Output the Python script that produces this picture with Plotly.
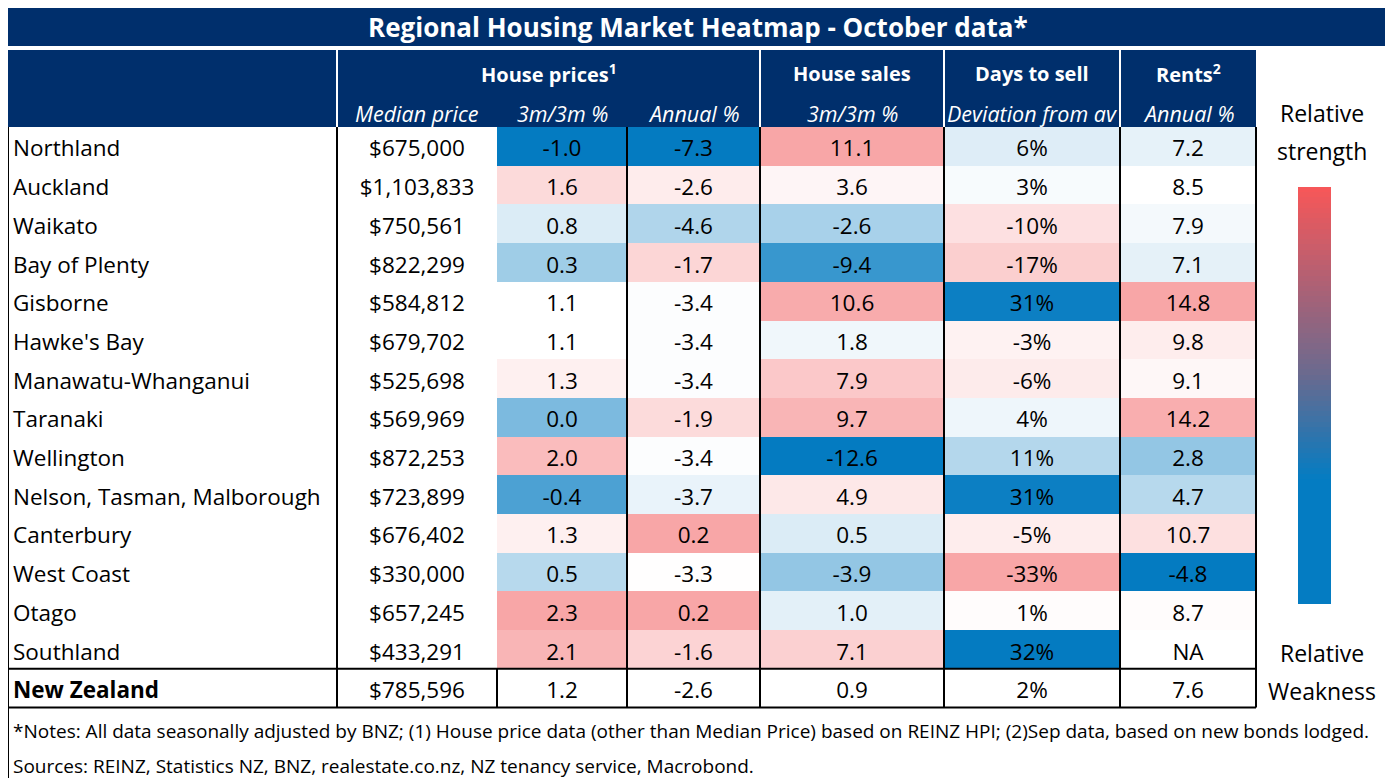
import numpy as np
import plotly.graph_objects as go

# ---------------- data ----------------
regions = ["Northland", "Auckland", "Waikato", "Bay of Plenty", "Gisborne", "Hawke's Bay",
           "Manawatu-Whanganui", "Taranaki", "Wellington", "Nelson, Tasman, Malborough",
           "Canterbury", "West Coast", "Otago", "Southland"]
median_price = [675000, 1103833, 750561, 822299, 584812, 679702, 525698, 569969,
                872253, 723899, 676402, 330000, 657245, 433291]
price_3m = [-1.0, 1.6, 0.8, 0.3, 1.1, 1.1, 1.3, 0.0, 2.0, -0.4, 1.3, 0.5, 2.3, 2.1]
price_annual = [-7.3, -2.6, -4.6, -1.7, -3.4, -3.4, -3.4, -1.9, -3.4, -3.7, 0.2, -3.3, 0.2, -1.6]
sales_3m = [11.1, 3.6, -2.6, -9.4, 10.6, 1.8, 7.9, 9.7, -12.6, 4.9, 0.5, -3.9, 1.0, 7.1]
days_dev = [6, 3, -10, -17, 31, -3, -6, 4, 11, 31, -5, -33, 1, 32]
rents_annual = [7.2, 8.5, 7.9, 7.1, 14.8, 9.8, 9.1, 14.2, 2.8, 4.7, 10.7, -4.8, 8.7, None]

nz_name = "New Zealand"
nz_median = 785596
nz_3m = 1.2
nz_annual = -2.6
nz_sales = 0.9
nz_days = 2
nz_rents = 7.6

title = "Regional Housing Market Heatmap - October data*"
group_headers = ["House prices<sup>1</sup>", "House sales", "Days to sell", "Rents<sup>2</sup>"]
sub_headers = ["Median price", "3m/3m %", "Annual %", "3m/3m %", "Deviation from av", "Annual %"]
notes = ("*Notes: All data seasonally adjusted by BNZ; (1) House price data (other than Median Price) "
         "based on REINZ HPI; (2)Sep data, based on new bonds lodged.")
sources = "Sources: REINZ, Statistics NZ, BNZ, realestate.co.nz, NZ tenancy service, Macrobond."

# ---------------- layout constants ----------------
W, H = 1393, 778
OFF = 8  # page body margin
col_edges = [8, 337, 497, 627, 760, 944, 1120, 1256, 1387]
row_top, row_h = 127, 38.7
n_rows = len(regions) + 1
row_edges = [row_top + i * row_h for i in range(n_rows + 1)]
TXT_DY = 4.5
row_centers = [(row_edges[i] + row_edges[i + 1]) / 2 + TXT_DY for i in range(n_rows)]
col_centers = [(col_edges[i] + col_edges[i + 1]) / 2 for i in range(len(col_edges) - 1)]

NAVY = "#002F6C"
BLUE = "#047BC1"
PINK = "#F8A6A7"
FONT = "Open Sans"


def excel_scale(vals, invert=False):
    arr = np.array([np.nan if v is None else v for v in vals], dtype=float)
    if invert:
        arr = -arr
    lo, mid, hi = np.nanmin(arr), np.nanmedian(arr), np.nanmax(arr)
    z = np.where(arr < mid, (arr - mid) / (mid - lo), (arr - mid) / (hi - mid))
    return z


zcols = [excel_scale(price_3m), excel_scale(price_annual), excel_scale(sales_3m),
         excel_scale(days_dev, invert=True), excel_scale(rents_annual)]
zmat = np.column_stack(zcols)

fig = go.Figure()

fig.add_trace(go.Heatmap(
    x=col_edges[2:8], y=row_edges[:len(regions) + 1], z=zmat,
    colorscale=[[0, BLUE], [0.5, "#FFFFFF"], [1, PINK]], zmin=-1, zmax=1,
    showscale=False, hoverinfo="skip"))

# legend gradient bar
bar_x = [1298, 1331]
n_steps = 80
bar_y = list(np.linspace(187, 604, n_steps + 1))
bar_z = [[1 - (i + 0.5) / n_steps] for i in range(n_steps)]
fig.add_trace(go.Heatmap(
    x=bar_x, y=bar_y, z=bar_z,
    colorscale=[[0, "#047CC2"], [0.3, "#047CC2"], [0.55, "#6A6A8F"], [1, "#F85758"]],
    zmin=0, zmax=1, showscale=False, hoverinfo="skip"))

txt_font = dict(family=FONT, size=22.5, color="black")

# region names
names = regions + ["<b>" + nz_name + "</b>"]
fig.add_trace(go.Scatter(x=[col_edges[0] + 5] * n_rows, y=row_centers, text=names,
                         mode="text", textposition="middle right", textfont=txt_font,
                         hoverinfo="skip"))

col_texts = [
    ["${:,.0f}".format(v) for v in median_price + [nz_median]],
    ["{:.1f}".format(v) for v in price_3m + [nz_3m]],
    ["{:.1f}".format(v) for v in price_annual + [nz_annual]],
    ["{:.1f}".format(v) for v in sales_3m + [nz_sales]],
    ["{:.0f}%".format(v) for v in days_dev + [nz_days]],
    ["NA" if v is None else "{:.1f}".format(v) for v in rents_annual + [nz_rents]],
]
for ci, texts in enumerate(col_texts):
    fig.add_trace(go.Scatter(x=[col_centers[ci + 1]] * n_rows, y=row_centers, text=texts,
                             mode="text", textposition="middle center", textfont=txt_font,
                             hoverinfo="skip"))

shapes = []
# title band and header band
shapes.append(dict(type="rect", x0=8, x1=1387, y0=8, y1=46, fillcolor=NAVY, line_width=0, layer="below"))
shapes.append(dict(type="rect", x0=8, x1=1256, y0=50, y1=row_top, fillcolor=NAVY, line_width=0, layer="below"))
for xv in [337, 760, 944, 1120]:
    shapes.append(dict(type="line", x0=xv, x1=xv, y0=50, y1=row_top, line=dict(color="white", width=2)))

blk = dict(color="black", width=2)
bottom = row_edges[-1]
nz_top = row_edges[-2]
shapes.append(dict(type="line", x0=8, x1=8, y0=row_top, y1=H, line=blk))
for xv in [337, 627, 760, 944, 1120, 1256]:
    shapes.append(dict(type="line", x0=xv, x1=xv, y0=row_top, y1=bottom, line=blk))
shapes.append(dict(type="line", x0=497, x1=497, y0=nz_top, y1=bottom, line=blk))
for yv in [nz_top, bottom]:
    shapes.append(dict(type="line", x0=8, x1=1256, y0=yv, y1=yv, line=blk))
shapes.append(dict(type="line", x0=1387, x1=1387, y0=46, y1=712, line=blk))
shapes.append(dict(type="line", x0=1387, x1=1387, y0=745, y1=H, line=blk))

ann = []
ann.append(dict(x=(8 + 1387) / 2, y=27, text="<b>" + title + "</b>", showarrow=False,
                font=dict(family=FONT, size=26, color="white"), xanchor="center", yanchor="middle"))
group_centers = [(337 + 760) / 2, col_centers[4], col_centers[5], col_centers[6]]
for gx, gt in zip(group_centers, group_headers):
    ann.append(dict(x=gx, y=73, text="<b>" + gt + "</b>", showarrow=False,
                    font=dict(family=FONT, size=20, color="white"), xanchor="center", yanchor="middle"))
for ci, st in enumerate(sub_headers):
    ann.append(dict(x=col_centers[ci + 1], y=113, text="<i>" + st + "</i>", showarrow=False,
                    font=dict(family=FONT, size=21.5, color="white"), xanchor="center", yanchor="middle"))
leg_x = col_centers[7]
for yv, t in [(113, "Relative"), (151, "strength"), (653, "Relative"), (691, "Weakness")]:
    ann.append(dict(x=leg_x, y=yv, text=t, showarrow=False,
                    font=dict(family=FONT, size=23, color="black"), xanchor="center", yanchor="middle"))
ann.append(dict(x=11, y=731, text=notes, showarrow=False, xanchor="left", yanchor="middle",
                font=dict(family=FONT, size=19, color="black")))
ann.append(dict(x=11, y=766, text=sources, showarrow=False, xanchor="left", yanchor="middle",
                font=dict(family=FONT, size=19, color="black")))

fig.update_layout(
    width=W, height=H, margin=dict(l=0, r=0, t=0, b=0),
    paper_bgcolor="white", plot_bgcolor="white", showlegend=False,
    xaxis=dict(range=[OFF, W + OFF], visible=False, fixedrange=True),
    yaxis=dict(range=[H + OFF, OFF], visible=False, fixedrange=True),
    shapes=shapes, annotations=ann,
)

fig.write_html("out.html")
